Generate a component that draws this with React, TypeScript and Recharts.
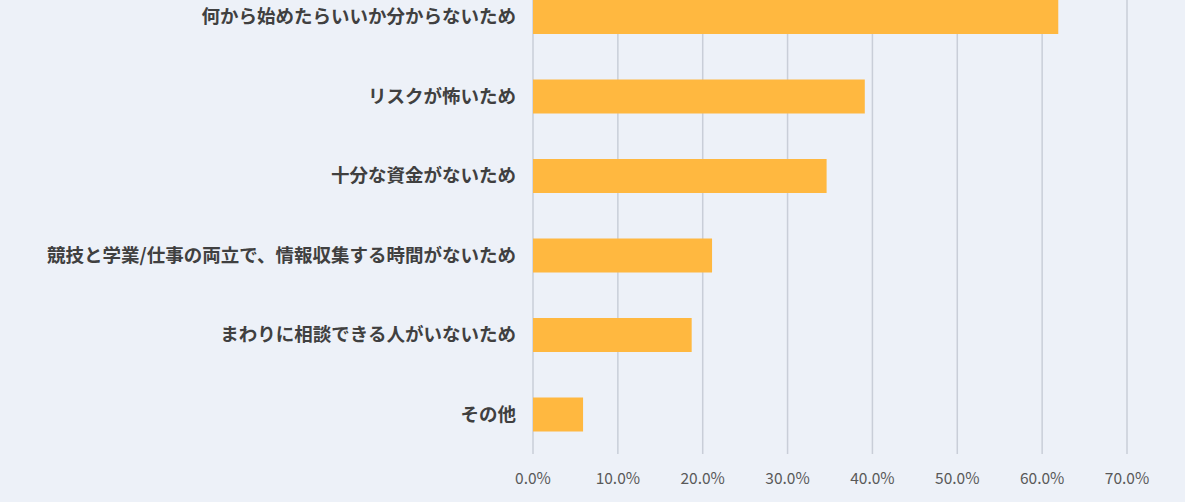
import React from 'react';
import { BarChart, Bar, XAxis, YAxis, CartesianGrid } from 'recharts';

const categories = [
  '何から始めたらいいか分からないため',
  'リスクが怖いため',
  '十分な資金がないため',
  '競技と学業/仕事の両立で、情報収集する時間がないため',
  'まわりに相談できる人がいないため',
  'その他',
];
const values = [61.9, 39.1, 34.6, 21.1, 18.7, 5.9];
const xTicks = [0, 10, 20, 30, 40, 50, 60, 70];

const data = categories.map((name, i) => ({ name, value: values[i] }));

export default function App() {
  return (
    <div
      style={{
        position: 'fixed',
        left: 0,
        top: 0,
        width: 1185,
        height: 502,
        overflow: 'hidden',
        background: '#EDF1F8',
      }}
    >
      <div style={{ position: 'absolute', left: 0, top: -23 }}>
        <BarChart
          width={1185}
          height={525}
          data={data}
          layout="vertical"
          margin={{ top: 0, right: 58, bottom: 0, left: 0 }}
          barSize={34}
        >
          <CartesianGrid horizontal={false} vertical={true} stroke="#C9CED8" strokeWidth={1.5} />
          <XAxis
            type="number"
            domain={[0, 70]}
            ticks={xTicks}
            tickFormatter={(v: number) => `${v.toFixed(1)}%`}
            axisLine={false}
            tickLine={false}
            tickSize={0}
            tickMargin={19}
            height={48}
            interval={0}
            tick={{ fill: '#595959', fontSize: 15.5, fontFamily: '"Noto Sans CJK JP", "Noto Sans", sans-serif' }}
          />
          <YAxis
            type="category"
            dataKey="name"
            width={533}
            axisLine={false}
            tickLine={false}
            tickSize={0}
            tickMargin={17}
            interval={0}
            tick={{ fill: '#404040', fontSize: 18.5, fontWeight: 700, fontFamily: '"Noto Sans CJK JP", sans-serif' }}
          />
          <Bar dataKey="value" fill="#FFB840" isAnimationActive={false} />
        </BarChart>
      </div>
    </div>
  );
}
